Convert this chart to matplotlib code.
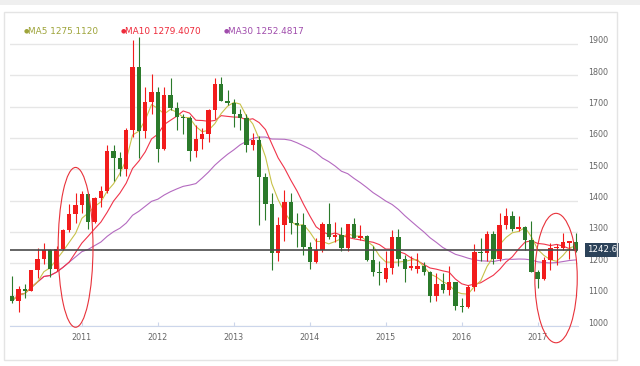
import matplotlib
matplotlib.use('Agg')
import matplotlib.pyplot as plt
import matplotlib.patches as patches
import matplotlib.transforms as mtransforms
import numpy as np
import pandas as pd

# 月K線 2010-01 ~ 2017-06
months = pd.period_range('2010-01', '2017-06', freq='M')
opens = [1096, 1081, 1118, 1113, 1179, 1213, 1244, 1181, 1247, 1307, 1357, 1386,
         1421, 1333, 1410, 1430, 1560, 1536, 1500, 1626, 1825, 1622, 1714, 1746,
         1564, 1737, 1696, 1668, 1664, 1558, 1597, 1613, 1690, 1771, 1719, 1713,
         1675, 1663, 1578, 1595, 1474, 1390, 1234, 1323, 1395, 1328, 1322, 1252,
         1203, 1244, 1327, 1284, 1290, 1250, 1327, 1282, 1287, 1210, 1172, 1150,
         1184, 1283, 1213, 1185, 1182, 1191, 1172, 1095, 1134, 1115, 1142, 1064,
         1062, 1126, 1237, 1233, 1294, 1213, 1321, 1351, 1309, 1315, 1276, 1173,
         1150, 1211, 1248, 1250, 1266, 1267]
highs = [1161, 1127, 1134, 1180, 1249, 1265, 1245, 1254, 1310, 1388, 1424, 1431,
         1424, 1411, 1447, 1576, 1577, 1556, 1632, 1913, 1921, 1764, 1804, 1764,
         1764, 1791, 1714, 1676, 1670, 1640, 1633, 1692, 1790, 1796, 1754, 1723,
         1694, 1675, 1617, 1605, 1488, 1424, 1348, 1434, 1424, 1361, 1362, 1267,
         1280, 1332, 1392, 1332, 1315, 1326, 1345, 1322, 1290, 1255, 1208, 1238,
         1307, 1308, 1225, 1224, 1232, 1205, 1174, 1170, 1170, 1191, 1142, 1088,
         1130, 1263, 1282, 1304, 1304, 1362, 1375, 1367, 1352, 1318, 1335, 1180,
         1220, 1264, 1262, 1296, 1269, 1296]
lows = [1072, 1045, 1088, 1111, 1154, 1197, 1155, 1177, 1242, 1300, 1330, 1360,
        1309, 1330, 1380, 1424, 1462, 1478, 1478, 1603, 1535, 1600, 1676, 1523,
        1562, 1688, 1627, 1613, 1527, 1540, 1564, 1586, 1660, 1718, 1705, 1635,
        1626, 1554, 1562, 1321, 1338, 1180, 1207, 1271, 1292, 1251, 1226, 1181,
        1202, 1237, 1277, 1268, 1240, 1240, 1281, 1273, 1206, 1161, 1131, 1142,
        1167, 1191, 1142, 1178, 1170, 1162, 1077, 1080, 1105, 1098, 1052, 1046,
        1058, 1111, 1208, 1208, 1199, 1207, 1310, 1302, 1302, 1241, 1171, 1122,
        1146, 1180, 1195, 1241, 1214, 1237]
closes = [1081, 1118, 1113, 1179, 1213, 1244, 1181, 1247, 1307, 1357, 1386, 1421,
          1333, 1410, 1430, 1560, 1536, 1500, 1626, 1825, 1622, 1714, 1746, 1564,
          1737, 1696, 1668, 1664, 1558, 1597, 1613, 1690, 1771, 1719, 1713, 1675,
          1663, 1578, 1595, 1474, 1390, 1234, 1323, 1395, 1328, 1322, 1252, 1203,
          1244, 1327, 1284, 1290, 1250, 1327, 1282, 1287, 1210, 1172, 1168, 1184,
          1283, 1213, 1183, 1190, 1191, 1172, 1095, 1134, 1115, 1142, 1064, 1061,
          1126, 1237, 1233, 1294, 1213, 1321, 1351, 1309, 1315, 1276, 1173, 1150,
          1211, 1248, 1250, 1267, 1269, 1242.6]

year_labels = ['2011', '2012', '2013', '2014', '2015', '2016', '2017']
y_ticks = [1000, 1100, 1200, 1300, 1400, 1500, 1600, 1700, 1800, 1900]
last_price = 1242.6
legend_items = [('MA5', '1275.1120'), ('MA10', '1279.4070'), ('MA30', '1252.4817')]

UP = '#f21c1c'
DOWN = '#2b7a2b'
MA_COLORS = {'MA5': '#c8c24a', 'MA10': '#f0344a', 'MA30': '#b46ac0'}
LEGEND_COLORS = {'MA5': '#9ea43a', 'MA10': '#ee2a3a', 'MA30': '#a04cac'}


def px(x, y):
    # 像素 -> figure 座標
    return x / 640, 1 - y / 366


fig = plt.figure(figsize=(6.4, 3.66), dpi=100)
fig.patch.set_facecolor('white')

# 外框與頂部灰帶
fig.add_artist(patches.Rectangle((0, 1 - 5 / 366), 1, 5 / 366, transform=fig.transFigure,
                                 facecolor='#efefef', edgecolor='none'))
fig.add_artist(patches.Rectangle(px(4, 360), 613 / 640, 348 / 366, transform=fig.transFigure,
                                 facecolor='none', edgecolor='#e4e4e4', linewidth=1))

ax = fig.add_axes([10 / 640, 40 / 366, 568 / 640, 314 / 366])
ax.set_facecolor('none')

df = pd.DataFrame({'open': opens, 'high': highs, 'low': lows, 'close': closes}, index=months)
x = np.arange(1, len(df) + 1)  # 每根K線畫在月底

# 均線 (資料不足時以現有資料平均)
for name, n in [('MA30', 30), ('MA10', 10), ('MA5', 5)]:
    ma = df['close'].rolling(n, min_periods=1).mean()
    ax.plot(x, ma, color=MA_COLORS[name], linewidth=0.8, zorder=3)

up = df['close'] >= df['open']
colors = np.where(up, UP, DOWN)
ax.vlines(x, df['low'], df['high'], colors=colors, linewidth=0.8, zorder=4)
body_bottom = np.minimum(df['open'], df['close'])
body_h = np.maximum((df['close'] - df['open']).abs(), 4)
ax.bar(x, body_h, bottom=body_bottom, width=0.7, color=colors, linewidth=0, zorder=5)

# 現價線
ax.axhline(last_price, color='#4a4a4a', linewidth=1.2, zorder=6)
trans = mtransforms.blended_transform_factory(fig.transFigure, ax.transData)
ax.text(587 / 640, last_price, f'{last_price}', transform=trans, color='white', fontsize=6.2,
        va='center', ha='left', clip_on=False,
        bbox=dict(boxstyle='square,pad=0.25', facecolor='#2c4259', edgecolor='none'))

ax.set_xlim(0.64, 90.37)
ax.set_ylim(1000, 2002)

ax.set_yticks(y_ticks)
ax.set_yticklabels([str(v) for v in y_ticks])
ax.yaxis.tick_right()
ax.tick_params(axis='y', length=0, pad=7.5, labelsize=5.8, labelcolor='#666666')
for lab in ax.get_yticklabels():
    lab.set_transform(lab.get_transform() + mtransforms.ScaledTranslation(0, 0.04, fig.dpi_scale_trans))
ax.grid(axis='y', color='#e6e6e6', linewidth=1, zorder=0)
ax.set_axisbelow(True)

ax.set_xticks([(int(y) - 2010) * 12 for y in year_labels])
ax.set_xticklabels(year_labels)
ax.tick_params(axis='x', direction='in', length=3, color='#ccd6eb', pad=5,
               labelsize=5.8, labelcolor='#666666')

for side in ['top', 'right', 'left']:
    ax.spines[side].set_visible(False)
ax.spines['bottom'].set_color('#ccd6eb')

# 紅色圈註
ax.add_patch(patches.Ellipse((11.0, 1251), 5.5, 510, fill=False, edgecolor='#e8323a',
                             linewidth=0.8, clip_on=False, zorder=7))
ax.add_patch(patches.Ellipse((86.9, 1153), 6.7, 413, fill=False, edgecolor='#e8323a',
                             linewidth=0.8, clip_on=False, zorder=7))

# 圖例
for (name, val), xp in zip(legend_items, [24, 121, 224]):
    fx, fy = px(xp, 31)
    fig.text(fx, fy, '\u25cf', color=LEGEND_COLORS[name], fontsize=4.5, va='center', ha='left')
    fig.text(fx + 4.5 / 640, fy, f'{name} {val}', color=LEGEND_COLORS[name], fontsize=6.4,
             va='center', ha='left')

fig.savefig('out.png', dpi=100)
